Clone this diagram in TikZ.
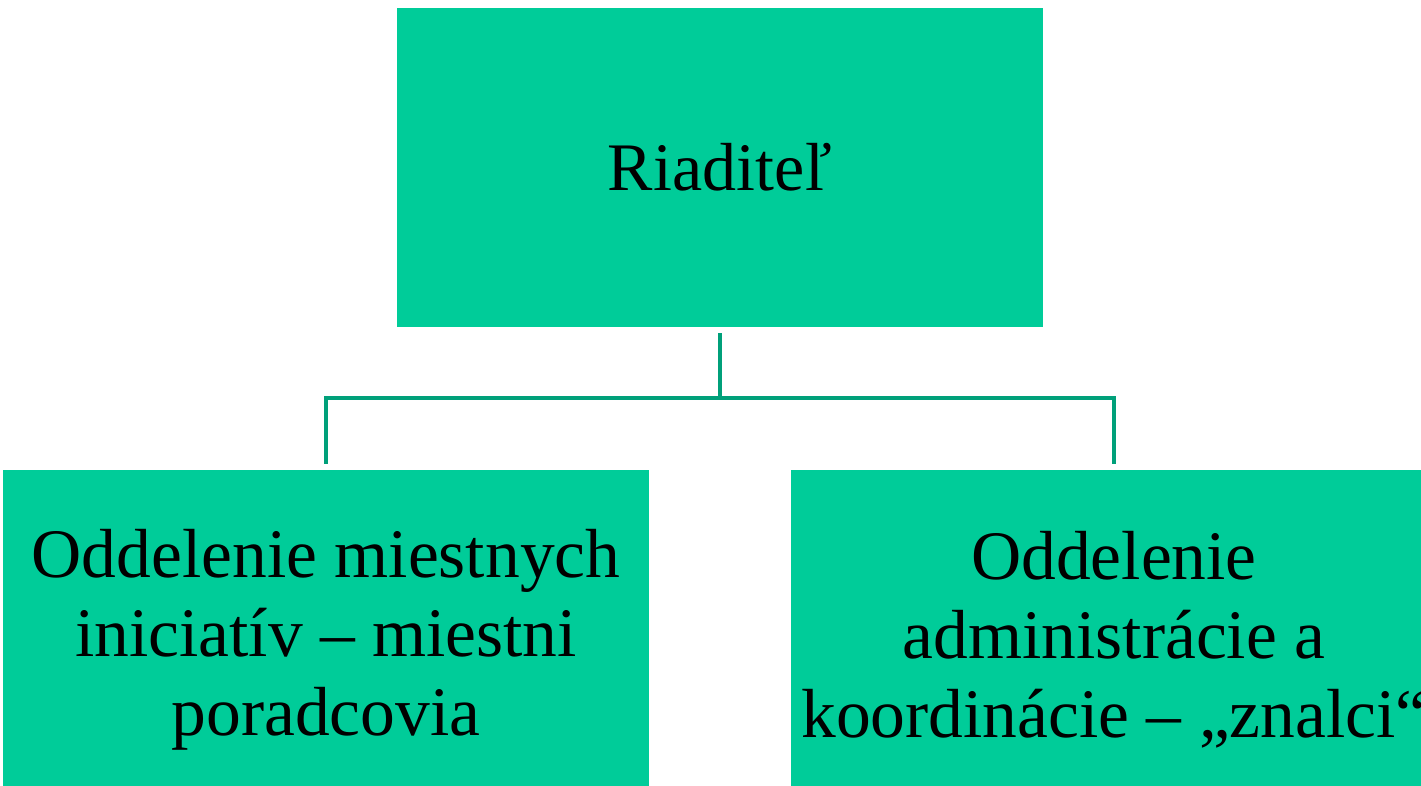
\documentclass[tikz,border=0pt]{standalone}
\usepackage{fontspec}
\setmainfont{Liberation Serif}
\definecolor{boxgreen}{RGB}{0,204,153}
\definecolor{linegreen}{RGB}{0,160,122}
\tikzset{
  orgbox/.style={rectangle, fill=boxgreen, draw=none, minimum width=646pt, inner sep=0pt},
  orgtext/.style={inner sep=0pt, align=center, text=black, font=\fontsize{69.5}{79}\selectfont},
  conn/.style={draw=linegreen, line width=4.8pt, line join=miter}
}
\begin{document}
\begin{tikzpicture}[x=1pt,y=-1pt]
\useasboundingbox (0,0) rectangle (1421,786);
\clip (0,0) rectangle (1421,786);
\node[orgbox, minimum height=319pt, font=\fontsize{68}{79}\selectfont] (top) at (720,167.5) {Riaditeľ};
\node[orgbox, minimum height=320pt] (left) at (326,630) {};
\node[orgbox, minimum height=320pt] (right) at (1114,630) {};
\node[orgtext] (lefttext) at (326,640) {Oddelenie miestnych\\iniciatív – miestni\\poradcovia};
\node[orgtext] (righttext) at (1114,640) {Oddelenie\\administrácie a\\koordinácie – „znalci“};
\coordinate (hub) at (720,398);
\draw[conn] ([yshift=-6pt]top.south) -- (hub);
\draw[conn] ([yshift=6pt]left.north) |- (hub) -| ([yshift=6pt]right.north);
\end{tikzpicture}
\end{document}
